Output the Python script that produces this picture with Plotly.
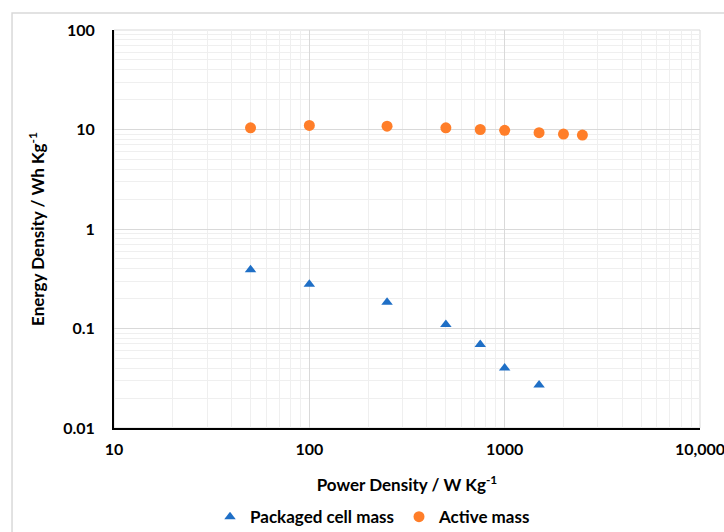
import plotly.graph_objects as go

power_packaged = [50, 100, 250, 500, 750, 1000, 1500]
energy_packaged = [0.39, 0.279, 0.184, 0.11, 0.069, 0.040, 0.027]

power_active = [50, 100, 250, 500, 750, 1000, 1500, 2000, 2500]
energy_active = [10.4, 11.0, 10.8, 10.4, 10.0, 9.8, 9.3, 9.0, 8.8]

x_tickvals = [10, 100, 1000, 10000]
x_ticktext = ["10", "100", "1000", "10,000"]
y_tickvals = [0.01, 0.1, 1, 10, 100]
y_ticktext = ["0.01", "0.1", "1", "10", "100"]

x_minor = [m * 10 ** e for e in range(1, 4) for m in range(2, 10)]
y_minor = [m * 10 ** e for e in range(-2, 2) for m in range(2, 10)]

FONT = "Lato"
fig = go.Figure()
fig.add_trace(go.Scatter(
    x=power_packaged, y=energy_packaged, mode="markers", name="Packaged cell mass",
    marker=dict(symbol="triangle-up", size=10, color="#1F6FC6"),
))
fig.add_trace(go.Scatter(
    x=power_active, y=energy_active, mode="markers", name="Active mass",
    marker=dict(symbol="circle", size=11, color="#FF7E29"),
))

fig.update_layout(
    width=724, height=532,
    margin=dict(l=114, r=24, t=30, b=104, autoexpand=False),
    paper_bgcolor="white", plot_bgcolor="white",
    font=dict(family=FONT, size=16, color="#000000"),
    showlegend=True,
    legend=dict(orientation="h", x=0.442, xanchor="center", y=-0.224, yanchor="middle",
                font=dict(family=FONT, size=17, color="#000000", weight="bold"),
                itemwidth=30, tracegroupgap=0),
    xaxis=dict(
        type="log", range=[1, 4], automargin=False, ticklabeloverflow="allow",
        tickvals=x_tickvals, ticktext=x_ticktext,
        tickfont=dict(family=FONT, size=16, weight="bold"),
        showgrid=True, gridcolor="#d9d9d9", gridwidth=1,
        minor=dict(tickmode="array", tickvals=x_minor, showgrid=True, gridcolor="#efefef", gridwidth=1),
        showline=True, linecolor="#000000", linewidth=2,
        ticks="", ticklabelstandoff=6, zeroline=False,
        title=dict(text="Power Density / W Kg<sup>-1</sup>", font=dict(family=FONT, size=17, weight="bold"), standoff=22),
    ),
    yaxis=dict(
        type="log", range=[-2, 2], automargin=False, ticklabeloverflow="allow",
        tickvals=y_tickvals, ticktext=y_ticktext,
        tickfont=dict(family=FONT, size=16, weight="bold"),
        showgrid=True, gridcolor="#d9d9d9", gridwidth=1,
        minor=dict(tickmode="array", tickvals=y_minor, showgrid=True, gridcolor="#efefef", gridwidth=1),
        showline=True, linecolor="#000000", linewidth=2,
        ticks="", ticklabelstandoff=14, zeroline=False,
        title=dict(text="Energy Density / Wh Kg<sup>-1</sup>", font=dict(family=FONT, size=17, weight="bold"), standoff=14),
    ),
    shapes=[
        dict(type="rect", xref="paper", yref="paper", x0=0, x1=1, y0=0, y1=1,
             line=dict(color="#d9d9d9", width=1), layer="below"),
        dict(type="rect", xref="paper", yref="paper", x0=-0.174, x1=1.2, y0=-0.5, y1=1.0427,
             line=dict(color="#d9d9d9", width=1.5), layer="below"),
    ],
)

fig.write_html("out.html")
